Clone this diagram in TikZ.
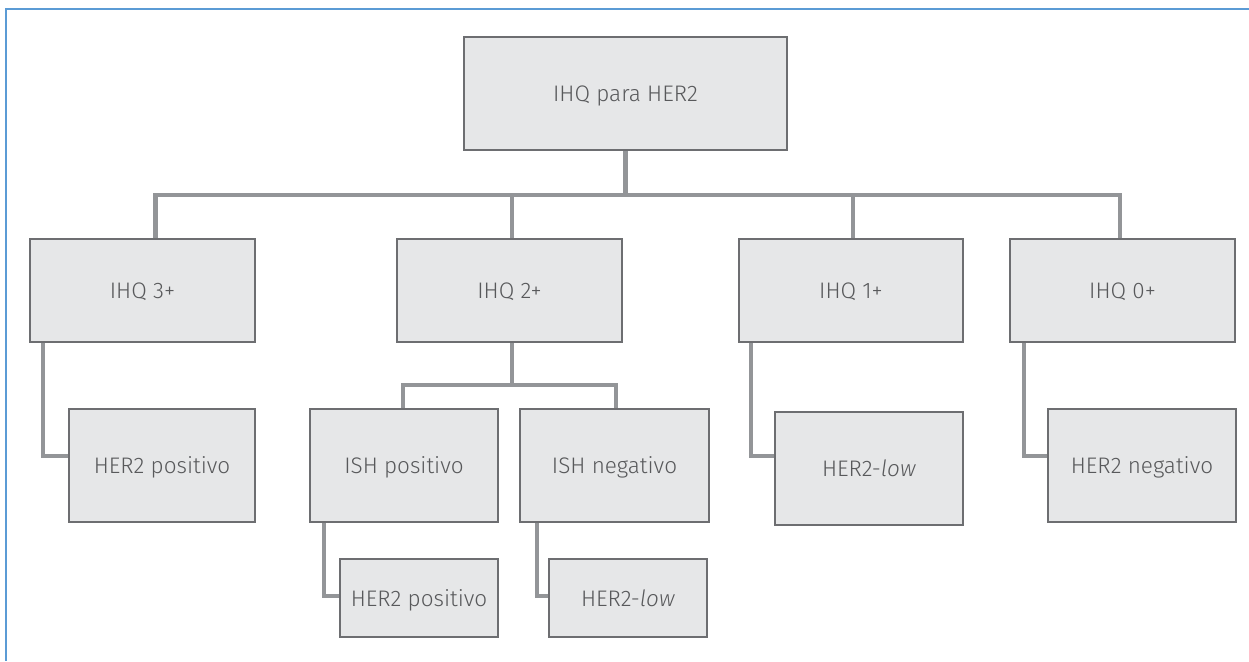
\documentclass[tikz,border=0pt]{standalone}
\usepackage{fontspec}
\IfFontExistsTF{Fira Sans Light}{\setmainfont{Fira Sans Light}[ItalicFont={Fira Sans Light Italic}]}{\setmainfont{Fira Sans}}
\definecolor{frameblue}{HTML}{5B9BD5}
\definecolor{boxfill}{HTML}{E6E7E8}
\definecolor{boxline}{HTML}{6D6E71}
\definecolor{connline}{HTML}{939598}
\definecolor{txt}{HTML}{58595B}
\begin{document}
\begin{tikzpicture}[x=1pt,y=-1pt,
  box/.style={draw=boxline, fill=boxfill, line width=1.5pt, inner sep=0pt,
    text=txt, font=\fontsize{22.5}{27}\selectfont, text height=16pt, text depth=0pt,
    minimum height=113pt},
  wide/.style={minimum width=225pt, minimum height=103pt},
  leaf/.style={minimum width=188pt},
  small/.style={minimum width=158pt, minimum height=78pt},
  conn/.style={draw=connline, line width=4.8pt}]
\useasboundingbox (0,0) rectangle (1249,661);
\draw[frameblue, line width=1.8pt] (1249,9) -- (6,9) -- (6,661);

% nodes
\node[box, minimum width=323pt] (top) at (625.5,93.5) {IHQ para HER2};
\node[box, wide] (ihq3) at (142.5,290.5) {IHQ 3+};
\node[box, wide] (ihq2) at (509.5,290.5) {IHQ 2+};
\node[box, wide, minimum width=224pt] (ihq1) at (851,290.5) {IHQ 1+};
\node[box, wide] (ihq0) at (1122.5,290.5) {IHQ 0+};
\node[box, minimum width=186pt] (posA) at (162,465.5) {HER2 positivo};
\node[box, leaf] (ishpos) at (404,465.5) {ISH positivo};
\node[box, minimum width=189pt] (ishneg) at (614.5,465.5) {ISH negativo};
\node[box, leaf] (lowA) at (869,468.5) {HER2-\textit{low}};
\node[box, leaf] (negA) at (1142,465.5) {HER2 negativo};
\node[box, small] (posB) at (419,598) {HER2 positivo};
\node[box, small] (lowB) at (628,598) {HER2-\textit{low}};

% connector coordinates
\coordinate (barL) at (155.5,195);
\coordinate (barR) at (1120,195);
\coordinate (b2) at (512,195);
\coordinate (b1) at (853,195);
\coordinate (s2) at (512,385);
\coordinate (sL) at (403,385);
\coordinate (sR) at (616,385);
\coordinate (k3) at (43,456);
\coordinate (k1) at (751,456);
\coordinate (k0) at (1024,456);
\coordinate (kp) at (324,596);
\coordinate (kn) at (537,596);

% connectors
\draw[conn] (top.south) -- (top.south |- barL);
\draw[conn] (ihq3.north -| barL) -- (barL) -- (barR) -- (ihq0.north -| barR);
\draw[conn] (b2) -- (b2 |- ihq2.north);
\draw[conn] (b1) -- (b1 |- ihq1.north);
\draw[conn] (ihq2.south -| s2) -- (s2);
\draw[conn] (ishpos.north -| sL) -- (sL) -- (sR) -- (ishneg.north -| sR);
\draw[conn] (ihq3.south -| k3) -- (k3) -- (k3 -| posA.west);
\draw[conn] (ihq1.south -| k1) -- (k1) -- (k1 -| lowA.west);
\draw[conn] (ihq0.south -| k0) -- (k0) -- (k0 -| negA.west);
\draw[conn] (ishpos.south -| kp) -- (kp) -- (kp -| posB.west);
\draw[conn] (ishneg.south -| kn) -- (kn) -- (kn -| lowB.west);
\end{tikzpicture}
\end{document}
